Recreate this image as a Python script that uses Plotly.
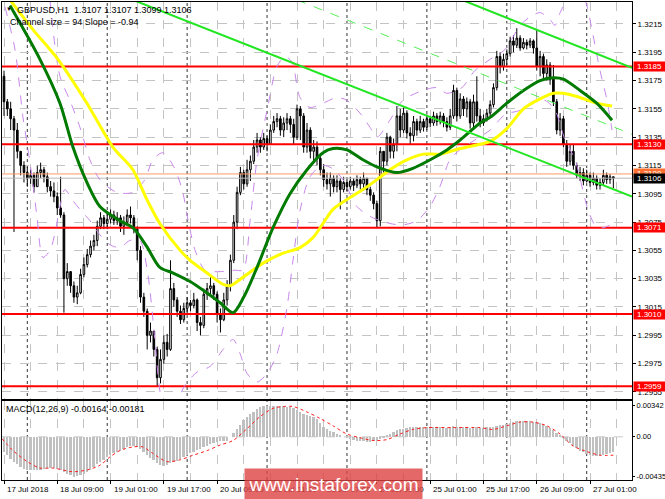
import plotly.graph_objects as go

# ---------------- data ----------------
bar_index = list(range(184))
first_open = 1.3178
closes = [
    1.3160,1.3155,1.3148,1.3140,1.3125,1.3115,1.3110,1.3106,1.3108,1.3100,
    1.3110,1.3112,1.3107,1.3100,1.3097,1.3093,1.3085,1.3080,1.3035,1.3040,
    1.3030,1.3022,1.3025,1.3038,1.3045,1.3052,1.3058,1.3062,1.3072,1.3078,
    1.3074,1.3077,1.3080,1.3076,1.3078,1.3072,1.3075,1.3080,1.3078,1.3070,
    1.3055,1.3022,1.3012,1.2995,1.2998,1.2985,1.2965,1.2978,1.2990,1.2985,
    1.3028,1.3020,1.3012,1.3006,1.3014,1.3018,1.3016,1.3020,1.3004,1.3002,
    1.3024,1.3028,1.3030,1.3024,1.3010,1.3006,1.3020,1.3030,1.3048,1.3075,
    1.3096,1.3110,1.3102,1.3112,1.3118,1.3128,1.3133,1.3128,1.3134,1.3130,
    1.3140,1.3146,1.3148,1.3140,1.3145,1.3148,1.3144,1.3135,1.3155,1.3150,
    1.3128,1.3140,1.3125,1.3128,1.3120,1.3112,1.3105,1.3102,1.3106,1.3100,
    1.3104,1.3098,1.3103,1.3100,1.3104,1.3101,1.3105,1.3102,1.3106,1.3098,
    1.3094,1.3088,1.3076,1.3125,1.3118,1.3135,1.3125,1.3130,1.3150,1.3140,
    1.3152,1.3138,1.3136,1.3146,1.3140,1.3146,1.3142,1.3148,1.3145,1.3150,
    1.3146,1.3150,1.3146,1.3142,1.3150,1.3168,1.3150,1.3162,1.3155,1.3160,
    1.3145,1.3160,1.3150,1.3145,1.3148,1.3152,1.3158,1.3170,1.3192,1.3185,
    1.3190,1.3194,1.3203,1.3200,1.3205,1.3198,1.3202,1.3200,1.3203,1.3198,
    1.3185,1.3192,1.3180,1.3186,1.3176,1.3160,1.3140,1.3148,1.3130,1.3118,
    1.3125,1.3115,1.3108,1.3110,1.3104,1.3108,1.3103,1.3106,1.3101,1.3103,
    1.3108,1.3105,1.3107,1.3106]
highs = [
    1.3182,1.3162,1.3160,1.3150,1.3145,1.3125,1.3118,1.3114,1.3112,1.3110,
    1.3115,1.3117,1.3114,1.3110,1.3104,1.3103,1.3096,1.3107,1.3082,1.3046,
    1.3040,1.3033,1.3030,1.3042,1.3050,1.3056,1.3062,1.3066,1.3076,1.3082,
    1.3080,1.3081,1.3084,1.3083,1.3082,1.3080,1.3079,1.3084,1.3086,1.3080,
    1.3072,1.3058,1.3025,1.3014,1.3004,1.2998,1.2987,1.2985,1.2995,1.2996,
    1.3048,1.3032,1.3022,1.3016,1.3018,1.3022,1.3020,1.3025,1.3021,1.3008,
    1.3028,1.3032,1.3036,1.3032,1.3026,1.3014,1.3025,1.3034,1.3052,1.3080,
    1.3100,1.3114,1.3112,1.3119,1.3122,1.3133,1.3138,1.3135,1.3138,1.3136,
    1.3144,1.3150,1.3152,1.3150,1.3149,1.3152,1.3150,1.3148,1.3158,1.3157,
    1.3152,1.3145,1.3142,1.3133,1.3132,1.3122,1.3116,1.3110,1.3110,1.3108,
    1.3108,1.3106,1.3107,1.3105,1.3107,1.3106,1.3108,1.3107,1.3110,1.3106,
    1.3100,1.3096,1.3090,1.3128,1.3125,1.3138,1.3136,1.3134,1.3157,1.3155,
    1.3156,1.3154,1.3142,1.3150,1.3148,1.3150,1.3148,1.3151,1.3150,1.3153,
    1.3152,1.3153,1.3152,1.3149,1.3155,1.3172,1.3170,1.3166,1.3164,1.3163,
    1.3162,1.3165,1.3178,1.3155,1.3151,1.3155,1.3161,1.3173,1.3196,1.3195,
    1.3194,1.3197,1.3206,1.3207,1.3212,1.3207,1.3205,1.3204,1.3205,1.3204,
    1.3211,1.3196,1.3194,1.3190,1.3188,1.3186,1.3162,1.3152,1.3150,1.3133,
    1.3130,1.3130,1.3117,1.3114,1.3113,1.3112,1.3110,1.3110,1.3108,1.3106,
    1.3112,1.3110,1.3109,1.3107]
lows = [
    1.3150,1.3150,1.3140,1.3068,1.3120,1.3108,1.3103,1.3100,1.3102,1.3096,
    1.3100,1.3106,1.3103,1.3096,1.3093,1.3089,1.3080,1.3078,1.3011,1.3030,
    1.3025,1.3018,1.3017,1.3024,1.3036,1.3043,1.3050,1.3055,1.3058,1.3070,
    1.3070,1.3070,1.3074,1.3073,1.3073,1.3068,1.3066,1.3072,1.3074,1.3067,
    1.3048,1.3018,1.3008,1.2985,1.2990,1.2980,1.2959,1.2961,1.2975,1.2980,
    1.2984,1.3015,1.3008,1.3003,1.3004,1.3010,1.3012,1.3014,1.2998,1.2995,
    1.3000,1.3020,1.3024,1.3020,1.3004,1.2997,1.3005,1.3016,1.3026,1.3046,
    1.3070,1.3094,1.3098,1.3100,1.3104,1.3116,1.3124,1.3124,1.3126,1.3125,
    1.3130,1.3138,1.3142,1.3136,1.3135,1.3140,1.3138,1.3130,1.3133,1.3133,
    1.3124,1.3124,1.3120,1.3118,1.3115,1.3108,1.3100,1.3098,1.3093,1.3096,
    1.3096,1.3084,1.3096,1.3097,1.3098,1.3097,1.3099,1.3098,1.3097,1.3094,
    1.3090,1.3084,1.3071,1.3072,1.3110,1.3115,1.3120,1.3120,1.3125,1.3135,
    1.3138,1.3134,1.3130,1.3132,1.3136,1.3138,1.3139,1.3140,1.3142,1.3143,
    1.3143,1.3144,1.3142,1.3139,1.3140,1.3148,1.3146,1.3148,1.3150,1.3149,
    1.3141,1.3142,1.3146,1.3142,1.3143,1.3146,1.3150,1.3156,1.3168,1.3180,
    1.3182,1.3186,1.3192,1.3195,1.3198,1.3196,1.3197,1.3197,1.3198,1.3194,
    1.3182,1.3178,1.3176,1.3175,1.3172,1.3157,1.3137,1.3136,1.3128,1.3114,
    1.3115,1.3112,1.3106,1.3104,1.3101,1.3103,1.3100,1.3101,1.3098,1.3098,
    1.3101,1.3102,1.3102,1.3099]

green_ma_x = [1.8,10.8,16.8,20.7,24.9,28.8,34.8,38.7,42.8,46.8,50.8,55.9,60.9,64.9,68.8,72,76,80.8,
              85.9,91,95.8,98.8,103,107.8,112,118,122.8,128,133,137,143,146,151,156,161,165,168,173,178,182.6]
green_ma_y = [1.3228,1.3190,1.3159,1.3128,1.3103,1.3086,1.3076,1.3071,1.3058,1.3043,1.3039,1.3033,1.3025,
              1.3018,1.3011,1.3022,1.3043,1.3071,1.3095,1.3112,1.3124,1.3127,1.3126,1.3119,1.3114,1.3110,
              1.3113,1.3119,1.3126,1.3133,1.3145,1.3149,1.3159,1.3168,1.3175,1.3177,1.3176,1.3168,1.3159,1.3147]
yellow_ma_x = [1.8,8.7,16.2,24.9,32.7,38.7,42.9,46.8,52.9,55.9,61,65.8,67.9,71.8,77.8,83.8,88.9,92.8,95.8,
               98.8,103,107.8,112,115.9,121,126,131,137,143,146,151,156,161,165,168,173,178,182.6]
yellow_ma_y = [1.3232,1.3211,1.3190,1.3159,1.3128,1.3112,1.3091,1.3074,1.3055,1.3048,1.3039,1.3031,1.3030,
               1.3036,1.3046,1.3053,1.3057,1.3064,1.3074,1.3084,1.3091,1.3098,1.3105,1.3112,1.3119,1.3123,
               1.3123,1.3127,1.3130,1.3132,1.3141,1.3155,1.3162,1.3166,1.3166,1.3163,1.3159,1.3157]

upper_band_x = [13.8,16.8,19.8,22.8,25.8,28.8,33.9,38.7,42.3,44.7,47.7,50.8,53.5,55.3,57.4,60.4,64.9,69.4,
                71.8,73.9,76,79,82,84.4,86.5,88.9,91.9,95.8,100,103,106.9,109.9,112,115.9,119.8,125.8,130,
                133,137.5,141.4,146,150.5,155,158,161,164,165.5,167,168.8,171.5,174.5,176.9,179,181.1,182.6]
upper_band_y = [1.3232,1.3178,1.3161,1.3142,1.3119,1.3105,1.3096,1.3096,1.3105,1.3119,1.3124,1.3115,1.3098,
                1.3076,1.3055,1.3041,1.3040,1.3041,1.3041,1.3076,1.3119,1.3154,1.3185,1.3192,1.3188,1.3163,
                1.3156,1.3159,1.3163,1.3161,1.3152,1.3142,1.3135,1.3147,1.3161,1.3168,1.3170,1.3166,1.3170,
                1.3182,1.3190,1.3197,1.3214,1.3220,1.3223,1.3218,1.3214,1.3223,1.3231,1.3243,1.3232,1.3207,
                1.3182,1.3161,1.3140]
lower_band_x = [0.3,3.3,5.7,6.9,8.4,9.9,11.7,13.8,15.3,16.8,18.3,20.4,22.8,25.8,28.8,31.8,34.8,37.8,40.8,
                43.2,45.3,46.8,48.3,51.4,54.4,58,61.9,65.8,68.8,70.9,73,76,79,82,85,86.8,88.9,91.9,95.5,
                98.5,101.8,106,109.9,115.9,119.8,124,127.9,130.9,133.9,136.9,141.4,146,150.5,155,159.5,
                162.5,165.5,168.5,171.5,175.1,177.5,179.9,182.9]
lower_band_y = [1.3227,1.3197,1.3149,1.3131,1.3107,1.3079,1.3050,1.3055,1.3067,1.3086,1.3098,1.3091,1.3084,
                1.3076,1.3066,1.3059,1.3057,1.3062,1.3062,1.3038,1.2992,1.2956,1.2942,1.2946,1.2960,1.2969,
                1.2973,1.2985,1.2992,1.2982,1.2968,1.2962,1.2968,1.2982,1.3015,1.3048,1.3083,1.3107,1.3115,
                1.3113,1.3105,1.3086,1.3079,1.3074,1.3073,1.3076,1.3086,1.3100,1.3119,1.3126,1.3133,1.3140,
                1.3151,1.3154,1.3161,1.3161,1.3154,1.3133,1.3119,1.3086,1.3073,1.3071,1.3074]

channel_lower_x = [38.7, 188.6]
channel_lower_y = [1.3232, 1.3093]
channel_upper_x = [137.5, 188.6]
channel_upper_y = [1.3232, 1.3184]
channel_mid_x = [88.0, 188.6]
channel_mid_y = [1.3232, 1.3137]

support_resistance = [1.3185, 1.3130, 1.3071, 1.3010, 1.2959]
ask_level = 1.3109
bid_level = 1.3106

price_ticks = [1.3215, 1.3195, 1.3175, 1.3155, 1.3135, 1.3115, 1.3095, 1.3075,
               1.3055, 1.3035, 1.3015, 1.2995, 1.2975, 1.2955]
price_tick_text = ["1.3215", "1.3195", "1.3175", "1.3155", "1.3135", "1.3115", "1.3095", "1.3075",
                   "1.3055", "1.3035", "1.3015", "1.2995", "1.2975", "1.2955"]

macd_hist = [
    -0.0016,-0.0020,-0.0024,-0.0027,-0.0030,-0.0033,-0.0035,-0.0036,-0.0036,-0.0036,
    -0.0036,-0.0036,-0.0035,-0.0034,-0.0034,-0.0034,-0.0035,-0.0036,-0.0038,-0.0040,
    -0.0042,-0.0044,-0.0043,-0.0042,-0.0040,-0.0038,-0.0036,-0.0033,-0.0030,-0.0027,
    -0.0025,-0.0022,-0.0020,-0.0018,-0.0016,-0.0015,-0.0013,-0.0011,-0.0010,-0.0010,
    -0.0011,-0.0013,-0.0016,-0.0020,-0.0023,-0.0025,-0.0028,-0.0031,-0.0032,-0.0031,
    -0.0029,-0.0027,-0.0026,-0.0024,-0.0022,-0.0020,-0.0018,-0.0016,-0.0014,-0.0013,
    -0.0011,-0.0010,-0.0008,-0.0007,-0.0006,-0.0005,-0.0004,-0.0004,0.0000,0.0004,
    0.0009,0.0013,0.0018,0.0022,0.0025,0.0027,0.0030,0.0033,0.0034,0.0034,
    0.0034,0.0034,0.0034,0.0034,0.0034,0.0033,0.0032,0.0031,0.0029,0.0027,
    0.0025,0.0024,0.0023,0.0022,0.0019,0.0015,0.0011,0.0008,0.0006,0.0005,
    0.0003,0.0001,0.0000,-0.0001,-0.0002,-0.0003,-0.0004,-0.0005,-0.0005,-0.0006,
    -0.0006,-0.0005,-0.0004,-0.0002,-0.0001,0.0001,0.0003,0.0005,0.0007,0.0008,
    0.0009,0.0010,0.0011,0.0011,0.0011,0.0011,0.0011,0.0011,0.0011,0.0011,
    0.0011,0.0011,0.0011,0.0010,0.0011,0.0012,0.0011,0.0011,0.0011,0.0011,
    0.0010,0.0011,0.0011,0.0010,0.0010,0.0011,0.0011,0.0011,0.0012,0.0013,
    0.0013,0.0014,0.0015,0.0016,0.0017,0.0017,0.0017,0.0017,0.0017,0.0016,
    0.0016,0.0015,0.0014,0.0012,0.0010,0.0007,0.0004,0.0001,-0.0001,-0.0004,
    -0.0007,-0.0010,-0.0012,-0.0015,-0.0017,-0.0019,-0.0020,-0.0021,-0.0021,-0.0021,
    -0.0020,-0.0019,-0.0018,-0.00164]
signal_x = [-0.6,2.7,7,10.8,14.7,20.7,25,28.8,31.8,34.8,38.7,41.7,44.7,48.9,52.9,56.8,61,64.9,68.8,73,
            76.9,80.8,83.8,86.8,91,94.9,98.8,103,106.9,110.8,115,118.9,122.8,127,134.8,143,146.8,151,
            154.9,158.9,163,167,170.9,175,179,183]
signal_y = [-0.0002,-0.0015,-0.0027,-0.0034,-0.0034,-0.0038,-0.0036,-0.0031,-0.0022,-0.0015,-0.0011,
            -0.0011,-0.0018,-0.0027,-0.0025,-0.0020,-0.0015,-0.0009,-0.0004,0.0009,0.0022,0.0031,0.0033,
            0.0033,0.0027,0.0020,0.0012,0.0003,-0.0001,-0.0004,-0.0003,0.0003,0.0008,0.0010,0.0010,0.0010,
            0.0008,0.0012,0.0016,0.0016,0.0012,0.0003,-0.0010,-0.0016,-0.0020,-0.0020]
macd_ticks = [0.00342, 0.0, -0.00435]
macd_tick_text = ["0.00342", "0.00", "-0.00435"]

time_tick_index = [0, 16, 32, 48, 64, 80, 96, 112, 128, 144, 160, 176]
time_tick_text = ["17 Jul 2018", "18 Jul 09:00", "19 Jul 01:00", "19 Jul 17:00", "20 Jul 09:00",
                  "23 Jul 01:00", "23 Jul 17:00", "24 Jul 09:00", "25 Jul 01:00", "25 Jul 17:00",
                  "26 Jul 09:00", "27 Jul 01:00"]
day_start_index = [7, 31, 55, 79, 103, 127, 151, 175]

header_text = "GBPUSD,H1  1.3107 1.3107 1.3099 1.3106"
channel_text = "Channel size = 94 Slope = -0.94"
macd_text = "MACD(12,26,9) -0.00164 -0.00181"
watermark = "www.instaforex.com"

# ---------------- figure ----------------
opens = [first_open] + closes[:-1]
highs_c = [max(h, o, c) for h, o, c in zip(highs, opens, closes)]
lows_c = [min(l, o, c) for l, o, c in zip(lows, opens, closes)]

FONT = "Liberation Sans, Arial, sans-serif"
VIOLET = "rgb(200,135,235)"
X_RANGE = [-0.6, 188.6]
fig = go.Figure()

for lvl in support_resistance:
    fig.add_trace(go.Scatter(x=X_RANGE, y=[lvl, lvl], mode="lines", xaxis="x", yaxis="y",
                             line=dict(color="#ff0000", width=2), hoverinfo="skip"))
fig.add_trace(go.Scatter(x=X_RANGE, y=[ask_level, ask_level], mode="lines", xaxis="x", yaxis="y",
                         line=dict(color="#ff9a66", width=1), hoverinfo="skip"))
fig.add_trace(go.Scatter(x=X_RANGE, y=[bid_level, bid_level], mode="lines", xaxis="x", yaxis="y",
                         line=dict(color="#b8b8b8", width=1), hoverinfo="skip"))

for bx, by in ((upper_band_x, upper_band_y), (lower_band_x, lower_band_y)):
    fig.add_trace(go.Scatter(x=bx, y=by, mode="lines", xaxis="x", yaxis="y",
                             line=dict(color=VIOLET, width=1, dash="dash", shape="spline", smoothing=0.8),
                             hoverinfo="skip"))

fig.add_trace(go.Candlestick(
    x=bar_index, open=opens, high=highs_c, low=lows_c, close=closes, xaxis="x", yaxis="y",
    increasing=dict(line=dict(color="#000000", width=1), fillcolor="#ffffff"),
    decreasing=dict(line=dict(color="#000000", width=1), fillcolor="#000000"),
    whiskerwidth=0, hoverinfo="skip"))

fig.add_trace(go.Scatter(x=yellow_ma_x, y=yellow_ma_y, mode="lines", xaxis="x", yaxis="y",
                         line=dict(color="#ffff00", width=3, shape="spline", smoothing=0.8), hoverinfo="skip"))
fig.add_trace(go.Scatter(x=green_ma_x, y=green_ma_y, mode="lines", xaxis="x", yaxis="y",
                         line=dict(color="#007a00", width=3, shape="spline", smoothing=0.8), hoverinfo="skip"))

fig.add_trace(go.Scatter(x=channel_lower_x, y=channel_lower_y, mode="lines", xaxis="x", yaxis="y",
                         line=dict(color="#22e622", width=2), hoverinfo="skip"))
fig.add_trace(go.Scatter(x=channel_upper_x, y=channel_upper_y, mode="lines", xaxis="x", yaxis="y",
                         line=dict(color="#22e622", width=2), hoverinfo="skip"))
fig.add_trace(go.Scatter(x=channel_mid_x, y=channel_mid_y, mode="lines", xaxis="x", yaxis="y",
                         line=dict(color="#55ee55", width=1, dash="dash"), hoverinfo="skip"))

fig.add_trace(go.Scatter(x=X_RANGE, y=[0, 0], mode="lines", xaxis="x2", yaxis="y2",
                         line=dict(color="#c8c8c8", width=1, dash="dash"), hoverinfo="skip"))
fig.add_trace(go.Bar(x=bar_index, y=macd_hist, xaxis="x2", yaxis="y2", width=0.55,
                     marker=dict(color="#c0c0c0", line=dict(width=0)), hoverinfo="skip"))
fig.add_trace(go.Scatter(x=signal_x, y=signal_y, mode="lines", xaxis="x2", yaxis="y2",
                         line=dict(color="#ff2020", width=1, dash="dot", shape="spline", smoothing=0.8),
                         hoverinfo="skip"))

shapes = []
for d in day_start_index:
    shapes.append(dict(type="line", xref="x", yref="paper", x0=d, x1=d, y0=0, y1=1,
                       line=dict(color="#333333", width=1, dash="dot"), layer="below"))

annotations = []
for lvl in support_resistance:
    annotations.append(dict(xref="paper", yref="y", x=1, y=lvl, xanchor="left", yanchor="middle",
                            xshift=1, text=f"{lvl:.4f}", showarrow=False, bgcolor="#ff0000",
                            font=dict(family=FONT, size=8, color="#ffffff"), width=31, height=9,
                            borderpad=0))
annotations.append(dict(xref="paper", yref="y", x=1, y=ask_level, xanchor="left", yanchor="middle",
                        xshift=1, text=f"{ask_level:.4f}", showarrow=False, bgcolor="#ff7030",
                        font=dict(family=FONT, size=8, color="#ffffff"), width=31, height=9, borderpad=0))
annotations.append(dict(xref="paper", yref="y", x=1, y=bid_level, xanchor="left", yanchor="middle",
                        xshift=1, text=f"{bid_level:.4f}", showarrow=False, bgcolor="#000000",
                        font=dict(family=FONT, size=8, color="#ffffff"), width=31, height=9, borderpad=0))
for ti, tt in zip(time_tick_index, time_tick_text):
    annotations.append(dict(xref="x2", yref="paper", x=ti, y=0, xanchor="left", yanchor="top",
                            xshift=1, yshift=-3, text=tt, showarrow=False,
                            font=dict(family=FONT, size=8, color="#000000")))
annotations.append(dict(xref="paper", yref="paper", x=0, y=1, xanchor="left", yanchor="top",
                        xshift=2, yshift=-2, text="\u25bc", showarrow=False,
                        font=dict(family=FONT, size=6, color="#000000")))
annotations.append(dict(xref="paper", yref="paper", x=0, y=1, xanchor="left", yanchor="top",
                        xshift=13, yshift=-1, text=header_text, showarrow=False,
                        font=dict(family=FONT, size=9, color="#000000")))
annotations.append(dict(xref="paper", yref="paper", x=0, y=1, xanchor="left", yanchor="top",
                        xshift=6, yshift=-13, text=channel_text, showarrow=False,
                        font=dict(family=FONT, size=9, color="#000000")))
annotations.append(dict(xref="paper", yref="paper", x=0, y=0.1653, xanchor="left", yanchor="top",
                        xshift=2, yshift=-1, text=macd_text, showarrow=False,
                        font=dict(family=FONT, size=9, color="#000000")))
annotations.append(dict(xref="paper", yref="paper", x=0.526, y=-0.0094, xanchor="center", yanchor="middle",
                        text=watermark, showarrow=False, width=177, height=30,
                        bgcolor="rgba(222,66,66,0.80)", borderpad=0,
                        font=dict(family=FONT, size=19, color="#ffffff")))

grid = "#c4c4c4"
xcommon = dict(range=X_RANGE, showticklabels=False, tickvals=time_tick_index, automargin=False,
               showgrid=True, gridcolor=grid, griddash="dash", gridwidth=1,
               minor=dict(dtick=8, tick0=0, showgrid=True, gridcolor=grid, griddash="dash"),
               showline=True, mirror=True, linecolor="#000000", linewidth=1, zeroline=False)

fig.update_layout(
    width=665, height=499,
    margin=dict(l=2, r=33, t=2, b=19, autoexpand=False),
    paper_bgcolor="#ffffff", plot_bgcolor="#ffffff",
    showlegend=False, bargap=0,
    font=dict(family=FONT, size=8, color="#000000"),
    xaxis=dict(**xcommon, domain=[0, 1], anchor="y", rangeslider=dict(visible=False), ticks=""),
    xaxis2=dict(**xcommon, domain=[0, 1], anchor="y2", matches="x", ticks="outside", ticklen=3,
                tickcolor="#000000"),
    yaxis=dict(domain=[0.1695, 1], range=[1.2950, 1.32305], side="right", anchor="x", automargin=False,
               tickvals=price_ticks, ticktext=price_tick_text, ticks="outside", ticklen=3,
               tickcolor="#000000", showgrid=True, gridcolor=grid, griddash="dash",
               showline=True, mirror=True, linecolor="#000000", zeroline=False,
               tickfont=dict(family=FONT, size=8)),
    yaxis2=dict(domain=[0, 0.1653], range=[-0.0047, 0.0039], side="right", anchor="x2", automargin=False,
                tickvals=macd_ticks, ticktext=macd_tick_text, ticks="outside", ticklen=2,
                tickcolor="#000000", showgrid=False, showline=True, mirror=True,
                linecolor="#000000", zeroline=False, tickfont=dict(family=FONT, size=7.5)),
    shapes=shapes, annotations=annotations,
)

fig.write_html("out.html", config={"displayModeBar": False},
               post_script="document.body.style.margin='0';document.body.style.overflow='hidden';")
